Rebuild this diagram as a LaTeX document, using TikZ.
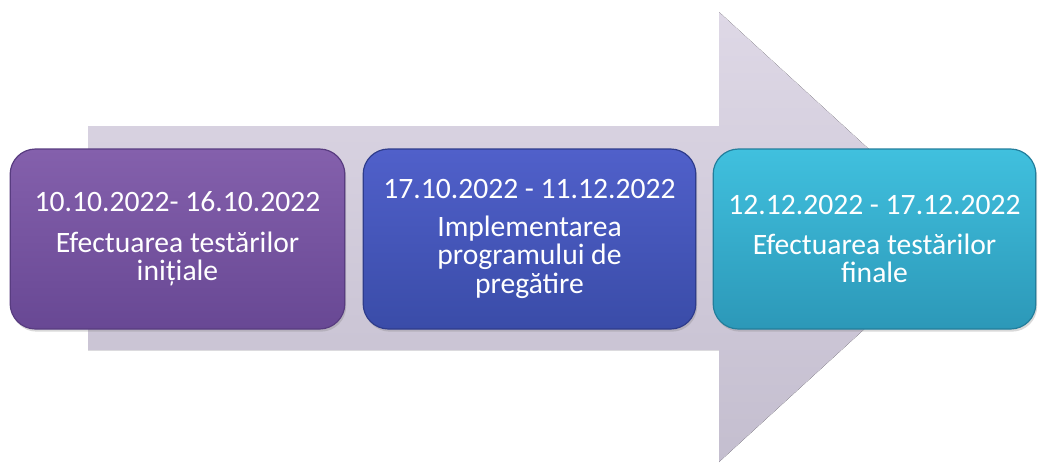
\documentclass[tikz,border=0pt]{standalone}
\usepackage{fontspec}
\setmainfont{Carlito}
\usetikzlibrary{shadows}

\definecolor{arrowTop}{RGB}{222,216,230}
\definecolor{arrowBot}{RGB}{196,190,207}
\definecolor{violetTop}{RGB}{132,96,172}
\definecolor{violetBot}{RGB}{104,72,148}
\definecolor{violetLine}{RGB}{88,60,128}
\definecolor{blueTop}{RGB}{80,96,202}
\definecolor{blueBot}{RGB}{58,76,168}
\definecolor{blueLine}{RGB}{46,60,140}
\definecolor{cyanTop}{RGB}{64,192,222}
\definecolor{cyanBot}{RGB}{44,152,184}
\definecolor{cyanLine}{RGB}{34,126,156}

\begin{document}
\begin{tikzpicture}[x=0.75pt,y=0.75pt,yscale=-1,xscale=1,
    phase/.style={rounded corners=19pt, minimum height=135pt, inner sep=0pt,
        align=center, text=white, line width=0.9pt,
        font=\fontsize{22.2}{21.3}\selectfont,
        drop shadow={opacity=0.3,shadow xshift=1pt,shadow yshift=-2pt}}]
    \useasboundingbox (0,0) rectangle (1038,462);

    %Shape: Right Arrow
    \fill [top color=arrowTop, bottom color=arrowBot] (88,126) -- (719,126) -- (719,12) -- (965,237) -- (719,462) -- (719,350) -- (88,350) -- cycle ;

    % Text Node
    \draw (177.5,239) node [phase, minimum width=251pt, draw=violetLine, top color=violetTop, bottom color=violetBot] (testInit) {10.10.2022- 16.10.2022\\[9pt]Efectuarea testărilor\\inițiale};
    % Text Node
    \draw (529.5,239) node [phase, minimum width=249.5pt, draw=blueLine, top color=blueTop, bottom color=blueBot] (program) {17.10.2022 - 11.12.2022\\[7pt]Implementarea\\programului de\\pregătire};
    % Text Node
    \draw (874.5,239) node [phase, minimum width=242pt, draw=cyanLine, top color=cyanTop, bottom color=cyanBot] (testFin) {12.12.2022 - 17.12.2022\\[9pt]Efectuarea testărilor\\finale};

\end{tikzpicture}
\end{document}
